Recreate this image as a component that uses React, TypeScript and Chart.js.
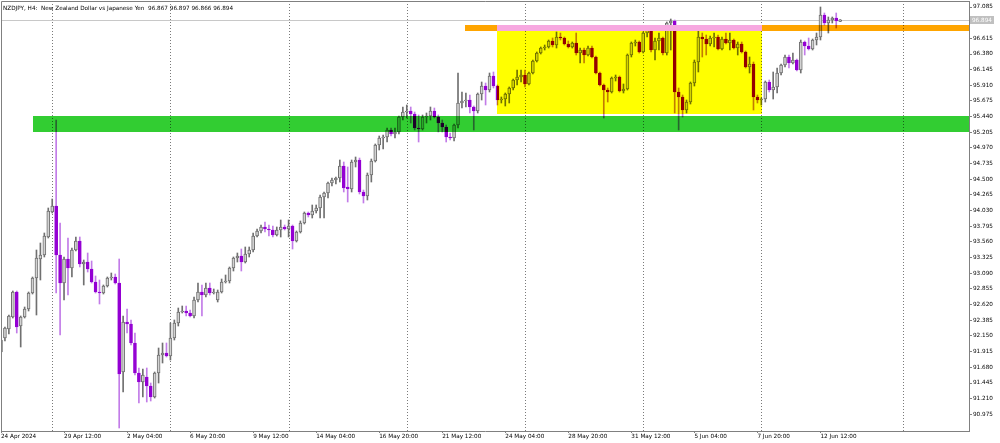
import { useEffect, useRef } from "react";
import { Chart, registerables } from "chart.js";

Chart.register(...registerables);

// NZDJPY H4 bars, index 0 = 24 Apr 2024 20:00
const opens = [
  91.91, 92.12, 92.255, 92.435, 92.81, 92.3, 92.435, 92.555, 92.795, 93.02,
  93.305, 93.365, 93.635, 94.01, 94.1, 93.365, 92.945, 93.305, 93.17, 93.44,
  93.575, 93.23, 93.26, 93.155, 92.96, 92.81, 92.795, 92.9, 93.02, 93.035,
  92.945, 91.61, 92.36, 92.33, 92.045, 91.595, 91.46, 91.535, 91.4, 91.235,
  91.595, 91.865, 91.895, 91.85, 92.12, 92.345, 92.51, 92.525, 92.495, 92.45,
  92.69, 92.81, 92.765, 92.87, 92.795, 92.69, 92.81, 92.96, 92.975, 93.17,
  93.32, 93.35, 93.26, 93.38, 93.44, 93.65, 93.725, 93.785, 93.755, 93.74,
  93.665, 93.74, 93.785, 93.755, 93.8, 93.575, 93.71, 93.845, 93.995, 93.965,
  94.025, 94.07, 94.235, 94.295, 94.445, 94.49, 94.52, 94.7, 94.385, 94.355,
  94.76, 94.79, 94.31, 94.25, 94.565, 94.775, 95.015, 95.12, 95.135, 95.24,
  95.18, 95.21, 95.435, 95.51, 95.525, 95.48, 95.27, 95.255, 95.435, 95.45,
  95.525, 95.435, 95.345, 95.285, 95.135, 95.12, 95.315, 95.645, 95.675, 95.69,
  95.585, 95.525, 95.78, 95.9, 95.84, 96.05, 95.9, 95.69, 95.705, 95.78,
  95.87, 95.99, 96.035, 96.065, 95.93, 96.095, 96.275, 96.395, 96.47, 96.485,
  96.575, 96.515, 96.635, 96.62, 96.53, 96.485, 96.545, 96.395, 96.44, 96.365,
  96.47, 96.335, 96.095, 95.915, 95.84, 95.81, 96.02, 96.035, 95.825, 95.855,
  96.365, 96.545, 96.56, 96.41, 96.695, 96.74, 96.44, 96.575, 96.62, 96.395,
  96.845, 96.875, 95.81, 95.735, 95.54, 95.66, 95.945, 96.26, 96.635, 96.605,
  96.53, 96.62, 96.635, 96.455, 96.605, 96.545, 96.59, 96.47, 96.53, 96.41,
  96.185, 96.23, 95.735, 95.69, 95.705, 95.96, 95.84, 95.885, 96.095, 96.215,
  96.335, 96.245, 96.29, 96.14, 96.56, 96.5, 96.455, 96.59, 96.635, 96.965,
  96.845, 96.89, 96.92, 96.867,
];

const highs = [
  92.135, 92.285, 92.465, 92.825, 92.825, 92.45, 92.585, 92.81, 93.035, 93.44,
  93.545, 93.695, 94.07, 94.205, 95.39, 93.845, 93.335, 93.62, 93.47, 93.635,
  93.635, 93.29, 93.395, 93.275, 93.05, 92.99, 92.915, 93.035, 93.095, 93.08,
  93.305, 92.45, 92.555, 92.39, 92.195, 91.67, 91.655, 91.67, 91.445, 91.61,
  91.97, 92.045, 92.045, 92.345, 92.39, 92.57, 92.6, 92.6, 92.54, 92.735,
  92.945, 92.915, 92.945, 92.945, 92.855, 92.84, 93.005, 93.065, 93.185, 93.335,
  93.395, 93.455, 93.485, 93.485, 93.695, 93.755, 93.815, 93.86, 93.815, 93.8,
  93.785, 93.89, 93.815, 93.89, 93.815, 93.725, 93.875, 94.01, 94.01, 94.115,
  94.115, 94.265, 94.31, 94.46, 94.52, 94.535, 94.79, 94.76, 94.685, 94.79,
  94.835, 94.82, 94.34, 94.595, 94.805, 95.03, 95.15, 95.165, 95.27, 95.27,
  95.27, 95.45, 95.585, 95.615, 95.585, 95.51, 95.465, 95.465, 95.495, 95.585,
  95.57, 95.465, 95.39, 95.315, 95.195, 95.33, 96.095, 95.81, 95.795, 95.765,
  95.6, 95.795, 95.96, 95.945, 96.095, 96.11, 95.915, 95.735, 95.795, 95.885,
  96.005, 96.14, 96.14, 96.14, 96.11, 96.29, 96.41, 96.485, 96.515, 96.59,
  96.62, 96.71, 96.695, 96.635, 96.575, 96.56, 96.695, 96.47, 96.47, 96.5,
  96.5, 96.35, 96.11, 95.93, 95.87, 96.035, 96.065, 96.05, 95.93, 96.38,
  96.56, 96.59, 96.575, 96.71, 96.785, 96.77, 96.62, 96.695, 96.635, 96.86,
  96.905, 96.89, 95.87, 95.765, 95.69, 95.96, 96.29, 96.74, 96.695, 96.665,
  96.65, 96.695, 96.665, 96.635, 96.695, 96.695, 96.605, 96.56, 96.56, 96.425,
  96.335, 96.26, 95.765, 95.72, 95.975, 95.99, 96.11, 96.17, 96.23, 96.365,
  96.365, 96.395, 96.305, 96.59, 96.575, 96.62, 96.605, 96.695, 97.085, 96.995,
  96.935, 96.935, 96.995, 96.897,
];

const lows = [
  91.865, 92.075, 92.18, 92.42, 92.195, 91.985, 92.42, 92.525, 92.78, 92.465,
  92.99, 93.335, 93.62, 93.995, 92.795, 92.165, 92.69, 92.765, 93.035, 93.425,
  93.185, 92.915, 93.11, 92.945, 92.795, 92.63, 92.78, 92.885, 92.99, 92.93,
  90.77, 91.31, 92.195, 92.015, 91.565, 91.145, 91.235, 91.16, 91.175, 91.22,
  91.445, 91.745, 91.835, 91.79, 92.09, 92.3, 92.495, 92.45, 92.435, 92.42,
  92.66, 92.45, 92.735, 92.765, 92.78, 92.66, 92.795, 92.945, 92.945, 93.125,
  93.26, 93.125, 93.245, 93.335, 93.41, 93.635, 93.695, 93.71, 93.65, 93.635,
  93.65, 93.635, 93.74, 93.635, 93.455, 93.56, 93.695, 93.83, 93.935, 93.92,
  93.995, 93.92, 93.92, 94.22, 94.4, 94.43, 94.46, 94.31, 94.16, 94.31,
  94.685, 94.28, 94.145, 94.19, 94.46, 94.76, 94.94, 94.955, 95.06, 95.15,
  95.12, 95.18, 95.39, 95.42, 95.345, 95.24, 95.06, 95.24, 95.345, 95.39,
  95.42, 95.21, 95.21, 95.06, 95.09, 95.075, 95.27, 95.57, 95.585, 95.495,
  95.24, 95.495, 95.69, 95.615, 95.81, 95.87, 95.615, 95.645, 95.6, 95.645,
  95.84, 95.915, 95.96, 95.885, 95.915, 96.08, 96.26, 96.38, 96.44, 96.47,
  96.485, 96.47, 96.59, 96.515, 96.47, 96.47, 96.365, 96.245, 96.245, 96.35,
  96.32, 96.08, 95.9, 95.42, 95.66, 95.795, 95.975, 95.81, 95.795, 95.84,
  96.335, 96.5, 96.395, 96.395, 96.635, 96.41, 96.29, 96.44, 96.365, 96.365,
  96.44, 95.495, 95.24, 95.435, 95.495, 95.63, 95.9, 96.11, 96.335, 96.365,
  96.5, 96.485, 96.44, 96.44, 96.53, 96.44, 96.455, 96.365, 96.395, 96.17,
  96.095, 95.54, 95.645, 95.615, 95.66, 95.81, 95.705, 95.795, 96.065, 96.185,
  96.17, 96.23, 96.125, 96.095, 96.365, 96.44, 96.44, 96.515, 96.59, 96.815,
  96.695, 96.845, 96.77, 96.866,
];

const closes = [
  92.09, 92.27, 92.45, 92.81, 92.285, 92.435, 92.555, 92.795, 93.02, 93.32,
  93.365, 93.65, 94.025, 94.1, 93.365, 92.945, 93.305, 93.17, 93.44, 93.575,
  93.23, 93.26, 93.155, 92.96, 92.81, 92.795, 92.9, 93.02, 93.035, 92.945,
  91.58, 92.36, 92.33, 92.045, 91.595, 91.46, 91.565, 91.4, 91.235, 91.595,
  91.865, 91.895, 91.85, 92.12, 92.345, 92.51, 92.525, 92.495, 92.45, 92.69,
  92.81, 92.765, 92.87, 92.795, 92.81, 92.81, 92.96, 92.975, 93.17, 93.32,
  93.35, 93.26, 93.38, 93.44, 93.65, 93.725, 93.785, 93.755, 93.74, 93.665,
  93.74, 93.785, 93.755, 93.8, 93.575, 93.71, 93.845, 93.995, 93.965, 94.025,
  94.07, 94.235, 94.295, 94.445, 94.49, 94.52, 94.7, 94.37, 94.355, 94.76,
  94.79, 94.31, 94.25, 94.565, 94.775, 95.015, 95.12, 95.135, 95.24, 95.18,
  95.21, 95.435, 95.51, 95.525, 95.48, 95.27, 95.255, 95.435, 95.45, 95.525,
  95.435, 95.345, 95.285, 95.135, 95.12, 95.315, 95.645, 95.675, 95.69, 95.585,
  95.525, 95.78, 95.9, 95.84, 96.05, 95.9, 95.69, 95.705, 95.78, 95.87,
  95.99, 96.035, 96.065, 95.93, 96.095, 96.275, 96.395, 96.47, 96.485, 96.575,
  96.515, 96.635, 96.62, 96.53, 96.485, 96.545, 96.395, 96.44, 96.365, 96.47,
  96.335, 96.095, 95.915, 95.84, 95.81, 96.02, 96.035, 95.825, 95.855, 96.365,
  96.545, 96.56, 96.41, 96.695, 96.74, 96.44, 96.575, 96.62, 96.395, 96.845,
  96.875, 95.81, 95.735, 95.54, 95.66, 95.945, 96.26, 96.635, 96.605, 96.53,
  96.62, 96.635, 96.455, 96.605, 96.545, 96.59, 96.47, 96.53, 96.41, 96.185,
  96.23, 95.735, 95.69, 95.705, 95.96, 95.84, 95.885, 96.095, 96.215, 96.335,
  96.245, 96.29, 96.14, 96.56, 96.5, 96.455, 96.59, 96.635, 96.965, 96.845,
  96.89, 96.92, 96.875, 96.894,
];

const xTickIndex = [0, 16, 32, 48, 64, 80, 96, 112, 128, 144, 160, 176, 192, 208];
const xTickLabels = [
  "24 Apr 2024", "29 Apr 12:00", "2 May 04:00", "6 May 20:00", "9 May 12:00",
  "14 May 04:00", "16 May 20:00", "21 May 12:00", "24 May 04:00", "28 May 20:00",
  "31 May 12:00", "5 Jun 04:00", "7 Jun 20:00", "12 Jun 12:00",
];
const yTicks = [
  90.975, 91.21, 91.445, 91.68, 91.915, 92.15, 92.385, 92.62, 92.855, 93.09,
  93.325, 93.56, 93.795, 94.03, 94.265, 94.5, 94.735, 94.97, 95.205, 95.44,
  95.675, 95.91, 96.145, 96.38, 96.615, 96.85, 97.085,
];
// week separators (bar index of Monday 00:00)
const weekSeparators = [13, 43, 73, 103, 133, 163, 193, 229];

// zones: [fromIndex, toIndex, lowPrice, highPrice]
const supportZone = [8.0, 246, 95.21, 95.45];
const rangeBox = [125.9, 193.1, 95.48, 96.725];
const resistanceLine = [117.8, 246, 96.725, 96.815];
const rangeTop = [125.9, 193.1, 96.725, 96.815];

const X_MIN = 0;
const X_MAX = 245.7;
const Y_MIN = 90.725;
const Y_MAX = 97.175;

const FONT = "'DejaVu Sans', Tahoma, sans-serif";
const BULL_FILL = "#d2d2d2";
const BULL_EDGE = "#707070";
const BEAR_FILL = "#9400d3";
const BEAR_WICK = "#c27ce8";

const overlayPlugin = {
  id: "mt4overlay",
  beforeDatasetsDraw(chart: any) {
    const { ctx, chartArea, scales } = chart;
    const x = scales.x;
    const y = scales.y;
    ctx.save();
    // bid line
    const last = closes[closes.length - 1];
    const yb = Math.round(y.getPixelForValue(last)) + 0.5;
    ctx.strokeStyle = "#c8c8c8";
    ctx.lineWidth = 1;
    ctx.beginPath();
    ctx.moveTo(chartArea.left, yb);
    ctx.lineTo(chartArea.right, yb);
    ctx.stroke();
    // week separators
    ctx.strokeStyle = "#7a7a7a";
    ctx.setLineDash([1, 2]);
    for (const w of weekSeparators) {
      const px = Math.round(x.getPixelForValue(w)) + 0.5;
      if (px > chartArea.right) continue;
      ctx.beginPath();
      ctx.moveTo(px, chartArea.top);
      ctx.lineTo(px, chartArea.bottom);
      ctx.stroke();
    }
    ctx.restore();
  },
  afterDatasetsDraw(chart: any) {
    const { ctx, chartArea, scales } = chart;
    const x = scales.x;
    const y = scales.y;
    const fillZone = (z: number[], color: string) => {
      const x0 = Math.round(x.getPixelForValue(z[0]));
      const x1 = Math.min(Math.round(x.getPixelForValue(z[1])), chartArea.right);
      const y0 = Math.round(y.getPixelForValue(z[3]));
      const y1 = Math.round(y.getPixelForValue(z[2]));
      ctx.fillStyle = color;
      ctx.fillRect(x0, y0, x1 - x0, y1 - y0);
    };
    ctx.save();
    ctx.beginPath();
    ctx.rect(chartArea.left, chartArea.top, chartArea.right - chartArea.left, chartArea.bottom - chartArea.top);
    ctx.clip();
    ctx.globalCompositeOperation = "multiply";
    fillZone(supportZone, "#32cd32");
    fillZone(rangeBox, "#ffff00");
    fillZone(resistanceLine, "#ffa500");
    ctx.globalCompositeOperation = "source-over";
    fillZone(rangeTop, "#ffffff");
    ctx.globalCompositeOperation = "multiply";
    fillZone(rangeTop, "#f7a8e0");
    ctx.restore();
  },
  afterDraw(chart: any) {
    const { ctx, chartArea, scales } = chart;
    const y = scales.y;
    ctx.save();
    // left and top frame
    ctx.strokeStyle = "#808080";
    ctx.lineWidth = 1;
    ctx.beginPath();
    ctx.moveTo(chartArea.left + 0.5, chartArea.bottom);
    ctx.lineTo(chartArea.left + 0.5, chartArea.top + 0.5);
    ctx.lineTo(chartArea.right, chartArea.top + 0.5);
    ctx.stroke();
    // header
    const n = closes.length - 1;
    ctx.fillStyle = "#000000";
    ctx.font = `5.7px ${FONT}`;
    ctx.textBaseline = "alphabetic";
    ctx.textAlign = "left";
    ctx.fillText(
      `NZDJPY, H4:  New Zealand Dollar vs Japanese Yen  ${opens[n].toFixed(3)} ${highs[n].toFixed(3)} ${lows[n].toFixed(3)} ${closes[n].toFixed(3)}`,
      chartArea.left + 2,
      9.5
    );
    // price label
    const py = Math.round(y.getPixelForValue(closes[n]));
    ctx.fillStyle = "#c0c0c0";
    ctx.fillRect(chartArea.right + 1, py - 4, 24, 8);
    ctx.fillStyle = "#ffffff";
    ctx.textBaseline = "middle";
    ctx.fillText(closes[n].toFixed(3), chartArea.right + 3, py + 0.5);
    ctx.restore();
  },
};

export default function App() {
  const canvasRef = useRef<HTMLCanvasElement | null>(null);

  useEffect(() => {
    document.body.style.margin = "0";
    const canvas = canvasRef.current;
    if (!canvas) return;
    const bodyFill = closes.map((c, i) => (c >= opens[i] ? BULL_FILL : BEAR_FILL));
    const bodyEdge = closes.map((c, i) => (c >= opens[i] ? BULL_EDGE : BEAR_FILL));
    const wickColor = closes.map((c, i) => (c >= opens[i] ? BULL_EDGE : BEAR_WICK));

    const chart = new Chart(canvas, {
      type: "bar",
      data: {
        datasets: [
          {
            label: "body",
            data: opens.map((o, i) => ({ x: i, y: [o, closes[i]] })) as any,
            backgroundColor: bodyFill,
            borderColor: bodyEdge,
            borderWidth: 1,
            borderSkipped: false,
            barThickness: 3,
            minBarLength: 1,
            grouped: false,
          } as any,
          {
            label: "wick",
            data: lows.map((l, i) => ({ x: i, y: [l, highs[i]] })) as any,
            backgroundColor: wickColor,
            borderWidth: 0,
            barThickness: 1,
            grouped: false,
          } as any,
        ],
      },
      options: {
        animation: false,
        responsive: false,
        maintainAspectRatio: false,
        devicePixelRatio: 1,
        layout: { padding: { left: 1, top: 1, right: 0, bottom: 0 } },
        plugins: { legend: { display: false }, tooltip: { enabled: false } },
        scales: {
          x: {
            type: "linear",
            min: X_MIN,
            max: X_MAX,
            offset: false,
            position: "bottom",
            grid: { drawOnChartArea: false, tickLength: 2, color: "#808080", offset: false },
            border: { color: "#808080" },
            afterBuildTicks: (s: any) => {
              s.ticks = xTickIndex.map((v) => ({ value: v }));
            },
            afterFit: (s: any) => {
              s.height = 12;
              s.paddingLeft = 0;
              s.paddingRight = 0;
            },
            ticks: {
              autoSkip: false,
              maxRotation: 0,
              minRotation: 0,
              align: "start",
              padding: 0,
              color: "#000000",
              font: { family: FONT, size: 5.7 },
              callback: (_v: any, idx: number) => xTickLabels[idx],
            },
          } as any,
          y: {
            type: "linear",
            position: "right",
            min: Y_MIN,
            max: Y_MAX,
            grid: { drawOnChartArea: false, tickLength: 3, color: "#808080" },
            border: { color: "#808080" },
            afterBuildTicks: (s: any) => {
              s.ticks = yTicks.map((v) => ({ value: v }));
            },
            afterFit: (s: any) => {
              s.width = 31;
              s.paddingTop = 0;
              s.paddingBottom = 0;
            },
            ticks: {
              padding: 1,
              color: "#000000",
              font: { family: FONT, size: 5.7 },
              callback: (v: any) => Number(v).toFixed(3),
            },
          } as any,
        },
      },
      plugins: [overlayPlugin],
    });
    return () => chart.destroy();
  }, []);

  return (
    <div style={{ width: 1000, height: 443, position: "relative", background: "#ffffff" }}>
      <canvas ref={canvasRef} width={1000} height={443} style={{ display: "block", width: 1000, height: 443 }} />
    </div>
  );
}
